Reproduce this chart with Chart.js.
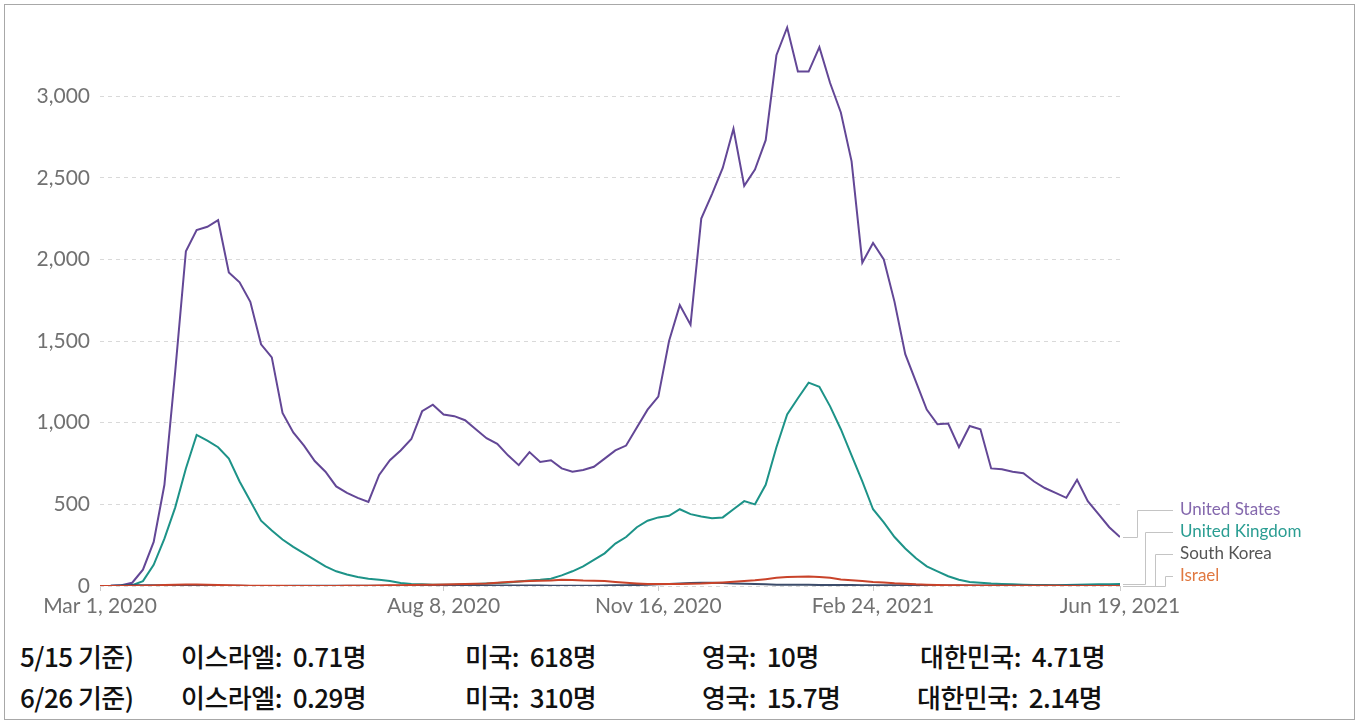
<!DOCTYPE html>
<html>
<head>
<meta charset="utf-8">
<script src="https://cdn.jsdelivr.net/npm/chart.js@4.4.1/dist/chart.umd.min.js"></script>
<style>
  body { margin: 0; background: #fff; }
  #frame { position: absolute; left: 4px; top: 4px; width: 1351px; height: 716px; border: 1px solid #a8a8a8; box-sizing: border-box; }
  #wrap { position: absolute; left: 0; top: 0; width: 1359px; height: 625px; }
  .note { position: absolute; font-family: "Noto Sans CJK KR", sans-serif; font-size: 26px; font-weight: 500; color: #111; line-height: 1; white-space: pre; transform: translateY(-50%); letter-spacing: -0.5px; }
</style>
</head>
<body>
<div id="frame"></div>
<div id="wrap"><canvas id="myChart"></canvas></div>
<div id="notes"></div>
<script>
// dias desde Mar 1, 2020 (cada 5 dias)
const days = [
  0, 5, 10, 15, 20, 25, 30, 35, 40, 45, 50, 55, 60, 65, 70, 75, 80, 85, 90, 95,
  100, 105, 110, 115, 120, 125, 130, 135, 140, 145, 150, 155, 160, 165, 170, 175, 180, 185, 190, 195,
  200, 205, 210, 215, 220, 225, 230, 235, 240, 245, 250, 255, 260, 265, 270, 275, 280, 285, 290, 295,
  300, 305, 310, 315, 320, 325, 330, 335, 340, 345, 350, 355, 360, 365, 370, 375, 380, 385, 390, 395,
  400, 405, 410, 415, 420, 425, 430, 435, 440, 445, 450, 455, 460, 465, 470, 475
];
const tickDays = [0, 160, 260, 360, 475];
const tickLabels = ["Mar 1, 2020", "Aug 8, 2020", "Nov 16, 2020", "Feb 24, 2021", "Jun 19, 2021"];
const yTicks = [0, 500, 1000, 1500, 2000, 2500, 3000];

const usDeaths = [
  0, 1, 5, 20, 100, 270, 620, 1310, 2050, 2180, 2200, 2240, 1920, 1860, 1740, 1480, 1400, 1060, 940, 860,
  765, 700, 610, 570, 540, 515, 680, 770, 830, 900, 1070, 1110, 1050, 1040, 1015, 960, 905, 870, 800, 740,
  820, 760, 770, 720, 700, 710, 730, 780, 830, 860, 970, 1080, 1160, 1500, 1720, 1600, 2250, 2400, 2560, 2800,
  2450, 2550, 2730, 3250, 3420, 3150, 3150, 3300, 3080, 2900, 2600, 1980, 2100, 2000, 1740, 1420, 1250, 1080, 990, 995,
  850, 980, 960, 720, 715, 700, 690, 640, 600, 570, 540, 650, 520, 440, 360, 300
];
const ukDeaths = [
  0, 0, 1, 5, 30, 130, 290, 480, 720, 925, 890, 850, 780, 640, 520, 400, 340, 285, 240, 200,
  160, 120, 90, 70, 55, 45, 38, 30, 18, 12, 10, 8, 7, 8, 10, 12, 15, 18, 22, 28,
  33, 38, 45, 65, 90, 120, 160, 200, 260, 300, 360, 400, 420, 430, 470, 440, 425, 415, 420, 470,
  520, 500, 620, 850, 1050, 1150, 1245, 1220, 1100, 960, 800, 640, 470, 390, 300, 230, 170, 120, 90, 60,
  38, 25, 20, 15, 12, 10, 8, 6, 6, 5, 6, 7, 9, 10, 11, 13
];
const koreaDeaths = [
  0, 1, 5, 6, 5, 5, 4, 4, 3, 2, 1, 1, 1, 1, 0, 0, 0, 0, 1, 1,
  1, 1, 1, 1, 1, 1, 1, 1, 1, 1, 1, 2, 2, 3, 3, 3, 3, 3, 3, 3,
  3, 3, 2, 2, 2, 2, 2, 3, 4, 5, 6, 8, 10, 12, 15, 18, 20, 20, 18, 16,
  14, 12, 10, 8, 8, 7, 7, 6, 6, 6, 6, 5, 5, 4, 4, 4, 3, 3, 3, 3,
  3, 3, 3, 3, 3, 3, 3, 3, 3, 3, 3, 3, 2, 2, 2, 2
];
const israelDeaths = [
  0, 0, 0, 0, 1, 3, 6, 8, 9, 9, 8, 6, 4, 3, 2, 1, 1, 1, 0, 0,
  0, 0, 0, 1, 1, 2, 3, 4, 5, 6, 7, 8, 9, 10, 12, 14, 16, 20, 24, 28,
  30, 32, 34, 38, 36, 33, 32, 30, 25, 20, 16, 13, 12, 12, 12, 14, 15, 18, 22, 26,
  30, 35, 42, 50, 55, 57, 58, 55, 50, 40, 35, 30, 25, 22, 17, 14, 10, 8, 6, 5,
  4, 3, 2, 1, 1, 1, 1, 1, 1, 1, 0, 0, 0, 0, 0, 0
];

const seriesNames = ["Israel", "South Korea", "United Kingdom", "United States"];
const seriesValues = [israelDeaths, koreaDeaths, ukDeaths, usDeaths];
const lineColors = ["#c9432a", "#3d4d6b", "#1d9388", "#634796"];
const textColors = ["#e07840", "#555555", "#2a9d92", "#8468ad"];
// orden de etiquetas de arriba hacia abajo
const labelOrder = ["United States", "United Kingdom", "South Korea", "Israel"];
const elbowOffset = { "United States": 17, "United Kingdom": 25, "South Korea": 35, "Israel": 45 };

// notas de abajo
const noteDates = ["5/15 기준)", "6/26 기준)"];
const noteIsrael = ["0.71명", "0.29명"];
const noteUS = ["618명", "310명"];
const noteUK = ["10명", "15.7명"];
const noteKorea = ["4.71명", "2.14명"];

const ctx = document.getElementById("myChart");

const etiquetasFinales = {
  id: "etiquetasFinales",
  afterDatasetsDraw(chart) {
    const c = chart.ctx;
    const area = chart.chartArea;
    const puntos = {};
    chart.data.datasets.forEach((ds, i) => {
      const meta = chart.getDatasetMeta(i);
      const last = meta.data[meta.data.length - 1];
      puntos[ds.label] = { y: last.y, color: textColors[i] };
    });
    // posiciones de abajo hacia arriba
    const ys = {};
    let prev = null;
    for (let k = labelOrder.length - 1; k >= 0; k--) {
      const name = labelOrder[k];
      let y = prev === null ? puntos[name].y - 10 : Math.min(puntos[name].y, prev - 22);
      ys[name] = y;
      prev = y;
    }
    c.save();
    c.strokeStyle = "#c4c4c4";
    c.lineWidth = 1;
    c.font = "17px Lato";
    c.textBaseline = "middle";
    labelOrder.forEach((name) => {
      const py = Math.round(puntos[name].y) + 0.5;
      const ly = Math.round(ys[name]) + 0.5;
      const ex = Math.round(area.right + elbowOffset[name]) + 0.5;
      c.beginPath();
      c.moveTo(area.right + 3, py);
      c.lineTo(ex, py);
      c.lineTo(ex, ly);
      c.lineTo(area.right + 53, ly);
      c.stroke();
      c.fillStyle = puntos[name].color;
      c.fillText(name, area.right + 60, ys[name]);
    });
    c.restore();
  }
};

const crearGrafico = () => {
  new Chart(ctx, {
    type: "line",
    data: {
      datasets: seriesNames.map((name, i) => ({
        label: name,
        data: days.map((d, j) => ({ x: d, y: seriesValues[i][j] })),
        borderColor: lineColors[i],
        borderWidth: 2,
        pointRadius: 0,
        tension: 0,
        fill: false,
      })),
    },
    options: {
      responsive: true,
      maintainAspectRatio: false,
      animation: false,
      layout: { padding: { top: 21, right: 239, left: 0, bottom: 0 } },
      plugins: { legend: { display: false }, tooltip: { enabled: false } },
      scales: {
        x: {
          type: "linear",
          min: 0,
          max: 475,
          afterBuildTicks: (scale) => {
            scale.ticks = tickDays.map((v) => ({ value: v }));
          },
          afterFit: (scale) => { scale.height = 39; },
          grid: { drawOnChartArea: false, drawTicks: true, tickLength: 5, color: "#cccccc" },
          border: { display: false },
          ticks: {
            autoSkip: false,
            maxRotation: 0,
            padding: 3,
            color: "#717171",
            font: { family: "Lato", size: 21 },
            callback: (v) => tickLabels[tickDays.indexOf(v)],
          },
        },
        y: {
          min: 0,
          max: 3450,
          afterBuildTicks: (scale) => {
            scale.ticks = yTicks.map((v) => ({ value: v }));
          },
          afterFit: (scale) => { scale.width = 100; },
          grid: { color: "#d9d9d9", lineWidth: 1, drawTicks: false },
          border: { display: false, dash: [4, 4] },
          ticks: {
            padding: 10,
            color: "#717171",
            font: { family: "Lato", size: 21 },
            callback: (v) => v.toLocaleString("en-US"),
          },
        },
      },
    },
    plugins: [etiquetasFinales],
  });
};

const crearNotas = () => {
  const notas = document.getElementById("notes");
  const filasY = [656, 697];
  let html = "";
  noteDates.forEach((fecha, i) => {
    const y = filasY[i];
    html += `<span class="note" style="left:20px;top:${y}px">${fecha}</span>`;
    html += `<span class="note" style="left:181px;top:${y}px">이스라엘:  ${noteIsrael[i]}</span>`;
    html += `<span class="note" style="left:465px;top:${y}px">미국:  ${noteUS[i]}</span>`;
    html += `<span class="note" style="left:702px;top:${y}px">영국:  ${noteUK[i]}</span>`;
    html += `<span class="note" style="left:${i === 0 ? 920 : 917}px;top:${y}px">대한민국:  ${noteKorea[i]}</span>`;
  });
  notas.innerHTML = html;
};

crearGrafico();
crearNotas();
</script>
</body>
</html>
